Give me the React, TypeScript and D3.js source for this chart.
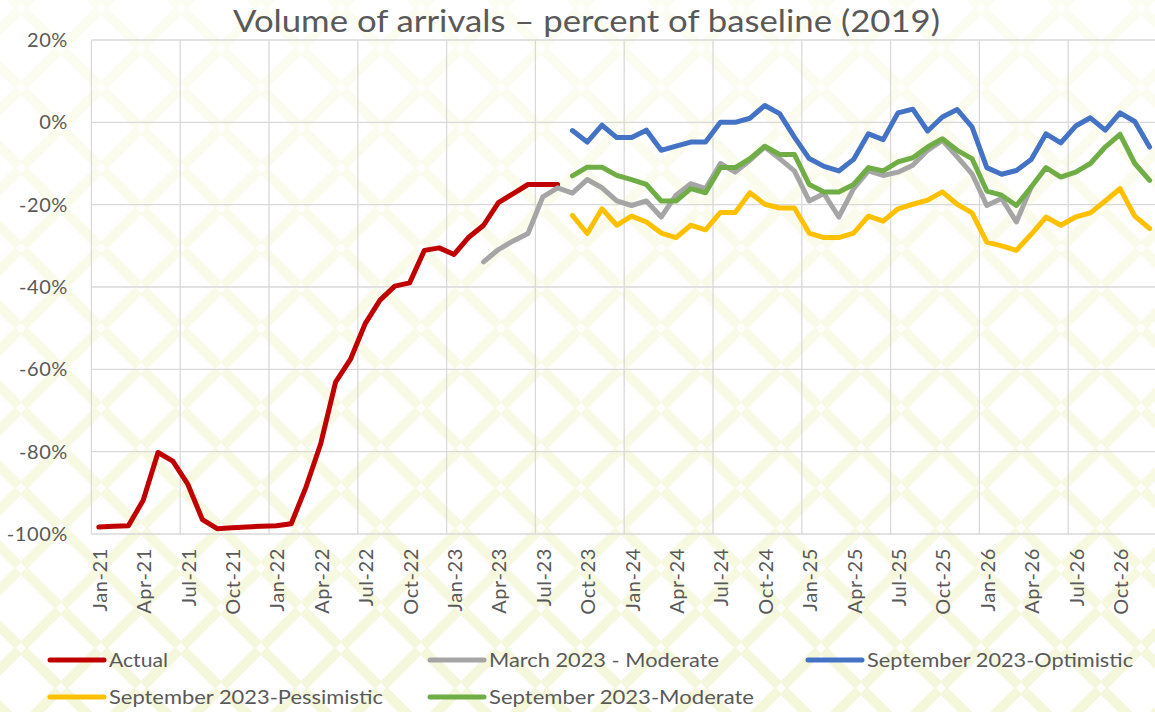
import React from 'react';
import * as d3 from 'd3';

// months Jan-21 .. Dec-26
const fmt = d3.timeFormat('%b-%y');
const MONTH_LABELS = d3.timeMonth.range(new Date(2021, 0, 1), new Date(2027, 0, 1)).map(fmt);

const Y_TICKS = [20, 0, -20, -40, -60, -80, -100];

const ACTUAL_START = 'Jan-21';
const ACTUAL = [
  -98.3, -98.1, -98.0, -91.8, -80.2, -82.3, -87.8, -96.5, -98.7, -98.5, -98.3, -98.1,
  -98.0, -97.5, -88.6, -78.0, -63.1, -57.6, -48.9, -43.2, -39.8, -39.0, -31.1, -30.5,
  -32.1, -27.9, -25.0, -19.5, -17.3, -15.1, -15.1, -15.1,
];

const MARCH_START = 'Mar-23';
const MARCH_MODERATE = [
  -33.9, -30.9, -28.8, -27.0, -18.1, -15.9, -17.2, -13.9, -15.9, -19.1, -20.2, -19.1,
  -23.0, -17.7, -14.9, -16.1, -10.0, -12.1, -9.2, -6.0, -8.8, -11.8, -19.1, -17.3,
  -23.0, -16.1, -11.8, -12.9, -12.1, -10.4, -6.8, -4.4, -8.4, -12.5, -20.2, -18.5,
  -24.2, -15.7,
];

const SEPT_START = 'Sep-23';
const SEPT_OPTIMISTIC = [
  -2.0, -4.8, -0.7, -3.7, -3.7, -1.9, -6.8, -5.8, -4.8, -4.8, 0.0, 0.0,
  1.0, 4.1, 2.1, -3.6, -8.8, -10.7, -11.8, -9.0, -2.8, -4.2, 2.3, 3.2,
  -2.1, 1.3, 3.1, -1.1, -11.0, -12.6, -11.7, -9.0, -2.8, -5.0, -0.9, 1.1,
  -1.9, 2.3, 0.2, -6.0,
];
const SEPT_PESSIMISTIC = [
  -22.6, -27.0, -21.0, -25.0, -22.8, -24.2, -26.9, -28.0, -25.0, -26.1, -21.9, -21.9,
  -17.1, -19.9, -20.8, -20.8, -26.9, -28.0, -28.0, -26.9, -22.8, -24.0, -21.0, -19.9,
  -18.9, -16.9, -19.9, -22.0, -29.1, -30.0, -31.1, -27.2, -23.0, -25.0, -23.0, -22.0,
  -19.1, -16.1, -22.8, -25.8,
];
const SEPT_MODERATE = [
  -13.0, -10.9, -10.9, -12.9, -13.9, -15.1, -19.1, -19.1, -16.1, -17.1, -11.0, -11.0,
  -8.8, -5.8, -7.8, -7.8, -15.1, -16.9, -16.9, -15.1, -11.0, -11.8, -9.6, -8.6,
  -6.0, -4.0, -6.8, -8.8, -16.7, -17.7, -20.2, -15.7, -11.0, -13.3, -12.1, -10.0,
  -6.0, -2.9, -10.0, -14.1,
];

const SERIES = [
  { name: 'Actual', start: ACTUAL_START, values: ACTUAL, color: '#c00000' },
  { name: 'March 2023 - Moderate', start: MARCH_START, values: MARCH_MODERATE, color: '#a5a5a5' },
  { name: 'September 2023-Optimistic', start: SEPT_START, values: SEPT_OPTIMISTIC, color: '#4472c4' },
  { name: 'September 2023-Pessimistic', start: SEPT_START, values: SEPT_PESSIMISTIC, color: '#ffc000' },
  { name: 'September 2023-Moderate', start: SEPT_START, values: SEPT_MODERATE, color: '#70ad47' },
];

// legend placement: [x of symbol, y, text width]
const LEGEND_POS = [
  [50, 660, 59],
  [430, 660, 230],
  [808, 660, 266],
  [50, 697, 274],
  [430, 697, 265],
];

const W = 1155;
const H = 712;
const FONT = 'Lato, "Open Sans", sans-serif';
const TXT = '#595959';

type Pt = { m: string; v: number };

export default function App() {
  const x = d3.scaleBand<string>().domain(MONTH_LABELS).range([91.4, 1157]).padding(0);
  const y = d3.scaleLinear().domain([-100, 20]).range([534, 40]);
  const bw = x.bandwidth();

  const line = d3.line<Pt>()
    .x((d) => (x(d.m) as number) + bw / 2)
    .y((d) => y(d.v));

  const gridX = MONTH_LABELS.filter((_, i) => i % 6 === 0).map((m) => x(m) as number);
  gridX.push(x.range()[1]);
  const xLabels = MONTH_LABELS.filter((_, i) => i % 3 === 0);

  // background lattice
  const up = d3.range(-14, 26).map((k) => 13 + 80 * k);
  const down = d3.range(-2, 28).map((k) => 29 + 80 * k);
  const gaps: [number, number][] = [];
  for (let a = -16; a <= 16; a++) {
    for (let b = -10; b <= 10; b++) {
      if ((a + b) % 2 !== 0) continue;
      const cx = 581 + 40 * a;
      const cy = 328 + 40 * b;
      if (cx > -10 && cx < W + 10 && cy > -10 && cy < H + 10) gaps.push([cx, cy]);
    }
  }

  return (
    <svg width={W} height={H} style={{ position: 'absolute', left: 0, top: 0, background: '#fff' }}>
      <defs>
        <linearGradient id="bgfade" gradientUnits="userSpaceOnUse" x1="0" y1="0" x2="0" y2={H}>
          <stop offset="0" stopColor="#fcfdf2" />
          <stop offset="1" stopColor="#f5f7db" />
        </linearGradient>
      </defs>
      <g stroke="url(#bgfade)" strokeWidth={10}>
        {up.map((c) => (
          <line key={'u' + c} x1={c - 100} y1={-100} x2={c + 812} y2={812} />
        ))}
        {down.map((c) => (
          <line key={'d' + c} x1={c + 100} y1={-100} x2={c - 812} y2={812} />
        ))}
      </g>
      <g fill="#fff">
        {gaps.map(([cx, cy]) => (
          <rect key={cx + '_' + cy} x={cx - 3.5} y={cy - 3.5} width={7} height={7}
            transform={`rotate(45 ${cx} ${cy})`} />
        ))}
      </g>

      <text x={586.5} y={32} textAnchor="middle" fontFamily={FONT} fontSize={30} fill={TXT}
        textLength={707} lengthAdjust="spacingAndGlyphs">
        Volume of arrivals – percent of baseline (2019)
      </text>

      {/* grid */}
      <g stroke="#d9d9d9" strokeWidth={1.3}>
        {Y_TICKS.map((t) => (
          <line key={t} x1={x.range()[0]} x2={x.range()[1]} y1={y(t)} y2={y(t)} />
        ))}
        {gridX.map((gx, i) => (
          <line key={i} x1={gx} x2={gx} y1={y(20)} y2={y(-100)} />
        ))}
      </g>

      {/* y labels */}
      <g fontFamily={FONT} fontSize={20} fill={TXT} textAnchor="end" letterSpacing={0.6}>
        {Y_TICKS.map((t) => (
          <text key={t} x={68} y={y(t)} dy="0.35em">{t}%</text>
        ))}
      </g>

      {/* x labels */}
      <g fontFamily={FONT} fontSize={20} fill={TXT} textAnchor="end" letterSpacing={0.6}>
        {xLabels.map((m) => {
          const cx = (x(m) as number) + bw / 2 + 1;
          return (
            <text key={m} transform={`translate(${cx},548) rotate(-90)`} dy="0.35em">{m}</text>
          );
        })}
      </g>

      {/* series */}
      <g fill="none" strokeWidth={5} strokeLinejoin="round" strokeLinecap="round">
        {SERIES.map((s) => {
          const i0 = MONTH_LABELS.indexOf(s.start);
          const pts: Pt[] = s.values.map((v, k) => ({ m: MONTH_LABELS[i0 + k], v }));
          return <path key={s.name} d={line(pts) as string} stroke={s.color} />;
        })}
      </g>

      {/* legend */}
      <g fontFamily={FONT} fontSize={20} fill={TXT}>
        {SERIES.map((s, i) => {
          const [lx, ly, tw] = LEGEND_POS[i];
          return (
            <g key={s.name}>
              <line x1={lx} x2={lx + 54} y1={ly} y2={ly} stroke={s.color} strokeWidth={5} strokeLinecap="round" />
              <text x={lx + 59} y={ly} dy="0.35em" textLength={tw} lengthAdjust="spacingAndGlyphs">{s.name}</text>
            </g>
          );
        })}
      </g>
    </svg>
  );
}
